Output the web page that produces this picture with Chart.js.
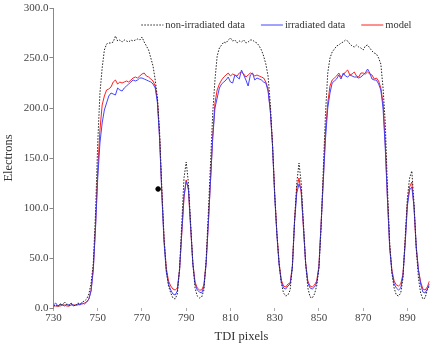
<!DOCTYPE html>
<html>
<head>
<meta charset="utf-8">
<script src="https://cdn.jsdelivr.net/npm/chart.js@4.4.1/dist/chart.umd.min.js"></script>
<style>
  html, body { margin: 0; padding: 0; background: #fff; }
  #wrap { width: 436px; height: 347px; }
</style>
</head>
<body>
<div id="wrap"><canvas id="tdiChart" width="436" height="347"></canvas></div>
<script>
// TDI pixel positions 730..900
const firstPixel = 730;
const tdiPixels = Array.from({ length: 171 }, (_, i) => firstPixel + i);

const xTicks = [730, 750, 770, 790, 810, 830, 850, 870, 890];
const yTicks = [0, 50, 100, 150, 200, 250, 300];

// electrons per TDI pixel
const nonIrradiated = [
  2, 3, 1, 4, 3, 6, 3, 2, 4, 3,
  2, 5, 4, 6, 7, 9, 14, 25, 45, 95,
  165, 215, 240, 258, 264, 265, 265, 266, 272, 267,
  268, 266, 268, 267, 266, 268, 267, 268, 269, 268,
  271, 266, 262, 258, 250, 242, 228, 210, 175, 118,
  70, 38, 22, 15, 10, 9, 14, 40, 85, 130,
  146, 125, 85, 45, 20, 12, 10, 11, 18, 48,
  95, 145, 195, 228, 252, 260, 263, 266, 265, 268,
  270, 267, 268, 265, 267, 266, 268, 265, 266, 268,
  268, 266, 265, 262, 258, 252, 244, 232, 205, 165,
  115, 75, 45, 25, 15, 12, 13, 18, 42, 88,
  125, 145, 125, 85, 45, 20, 11, 10, 14, 22,
  40, 80, 140, 195, 235, 250, 256, 259, 262, 263,
  265, 266, 268, 267, 264, 262, 261, 263, 261, 260,
  258, 262, 263, 260, 257, 255, 254, 250, 244, 220,
  185, 120, 65, 35, 20, 13, 12, 15, 30, 70,
  110, 130, 137, 105, 60, 30, 15, 9, 10, 18,
  22
];

const irradiated = [
  3, 5, 2, 4, 3, 2, 4, 3, 5, 2,
  3, 4, 3, 5, 4, 6, 9, 17, 38, 80,
  130, 165, 185, 198, 205, 212, 215, 214, 213, 220,
  218, 217, 220, 222, 224, 226, 228, 227, 228, 230,
  230, 229, 228, 227, 226, 224, 220, 205, 168, 112,
  65, 36, 24, 18, 14, 13, 17, 38, 76, 112,
  127, 120, 82, 44, 24, 18, 16, 15, 21, 44,
  84, 128, 170, 200, 210, 220, 224, 226, 228, 231,
  226, 225, 233, 231, 229, 238, 233, 228, 222, 233,
  235, 228, 230, 229, 228, 226, 225, 217, 198, 163,
  112, 73, 43, 26, 20, 19, 22, 24, 40, 86,
  115, 124, 118, 82, 44, 25, 20, 19, 21, 25,
  40, 84, 128, 170, 200, 215, 225, 227, 229, 233,
  229, 235, 232, 231, 233, 232, 231, 231, 230, 231,
  233, 235, 239, 235, 229, 228, 228, 224, 218, 200,
  160, 108, 60, 36, 24, 20, 18, 20, 32, 64,
  102, 118, 121, 102, 62, 38, 24, 16, 15, 19,
  24
];

const model = [
  2, 2, 2, 2, 3, 3, 2, 2, 3, 3,
  3, 3, 4, 4, 5, 6, 9, 18, 40, 82,
  138, 178, 203, 212, 218, 219, 221, 226, 228, 224,
  226, 225, 226, 227, 226, 228, 230, 231, 230, 232,
  234, 235, 232, 231, 229, 227, 222, 208, 170, 115,
  68, 40, 27, 22, 19, 18, 20, 38, 75, 110,
  128, 118, 80, 45, 26, 20, 18, 18, 23, 45,
  85, 128, 172, 205, 218, 224, 228, 231, 233, 235,
  232, 234, 233, 232, 235, 236, 234, 231, 233, 235,
  234, 232, 233, 232, 231, 230, 226, 219, 198, 165,
  115, 75, 45, 28, 22, 21, 24, 25, 42, 88,
  120, 130, 115, 80, 45, 27, 22, 21, 23, 27,
  42, 85, 130, 178, 205, 222, 228, 230, 232, 235,
  231, 233, 236, 238, 233, 234, 236, 232, 231, 235,
  235, 234, 236, 234, 233, 229, 230, 227, 220, 205,
  165, 110, 62, 38, 27, 23, 22, 24, 34, 66,
  105, 121, 126, 100, 60, 38, 26, 19, 18, 21,
  27
];

// single marked point
const markerX = [777.3];
const markerY = [119];

const seriesNames = ['non-irradiated data', 'irradiated data', 'model'];
const seriesColors = ['#222222', '#4444ff', '#ff2020'];
const seriesDash = [[1.5, 1.5], [], []];

const serif = '"Liberation Serif", "Times New Roman", serif';

function toPoints(values) {
  return values.map((v, i) => ({ x: tdiPixels[i], y: v }));
}

// one-row legend drawn inside the plot, top right
const rowLegend = {
  id: 'rowLegend',
  afterDraw(chart) {
    const c = chart.ctx;
    const area = chart.chartArea;
    const lineLen = 22, textGap = 2, itemGap = 16, y = 25;
    c.save();
    c.font = '10.5px ' + serif;
    c.textBaseline = 'middle';
    c.textAlign = 'left';
    const widths = seriesNames.map(name => lineLen + textGap + c.measureText(name).width);
    let x = area.right - 18 - widths.reduce((a, b) => a + b, 0) - itemGap * (seriesNames.length - 1);
    seriesNames.forEach((name, i) => {
      c.beginPath();
      c.setLineDash(seriesDash[i]);
      c.strokeStyle = seriesColors[i];
      c.lineWidth = 1;
      c.moveTo(x, y);
      c.lineTo(x + lineLen, y);
      c.stroke();
      c.setLineDash([]);
      c.fillStyle = '#333';
      c.fillText(name, x + lineLen + textGap, y);
      x += widths[i] + itemGap;
    });
    c.restore();
  }
};

const lineSets = [nonIrradiated, irradiated, model].map((values, i) => ({
  label: seriesNames[i],
  data: toPoints(values),
  borderColor: seriesColors[i],
  borderWidth: 1,
  borderDash: seriesDash[i],
  pointRadius: 0,
  tension: 0
}));

const ctx = document.getElementById('tdiChart').getContext('2d');
const tdiChart = new Chart(ctx, {
  type: 'line',
  data: {
    datasets: lineSets.concat([{
      type: 'scatter',
      label: 'marker',
      data: markerX.map((x, i) => ({ x: x, y: markerY[i] })),
      backgroundColor: '#000',
      borderColor: '#000',
      pointRadius: 2.3,
      showLine: false
    }])
  },
  options: {
    responsive: false,
    animation: false,
    devicePixelRatio: 1,
    layout: { padding: { top: 8, right: 6.5, bottom: 0, left: 0 } },
    plugins: {
      tooltip: { enabled: false },
      legend: { display: false }
    },
    scales: {
      x: {
        type: 'linear',
        min: 730,
        max: 900,
        afterBuildTicks: axis => { axis.ticks = xTicks.map(v => ({ value: v })); },
        afterFit: scale => { scale.height = 39; },
        ticks: {
          autoSkip: false,
          maxRotation: 0,
          padding: 1,
          color: '#444',
          font: { family: serif, size: 11 }
        },
        grid: { drawOnChartArea: false, drawTicks: true, tickLength: 3, color: '#aaa' },
        border: { display: false },
        title: {
          display: true,
          text: 'TDI pixels',
          color: '#333',
          font: { family: serif, size: 12.5 },
          padding: { top: 0, bottom: 3 }
        }
      },
      y: {
        min: 0,
        max: 300,
        afterBuildTicks: axis => { axis.ticks = yTicks.map(v => ({ value: v })); },
        afterFit: scale => { scale.width = 53.5; },
        ticks: {
          padding: 1,
          color: '#444',
          font: { family: serif, size: 11 },
          callback: v => v.toFixed(1)
        },
        grid: { drawOnChartArea: false, drawTicks: true, tickLength: 4, color: '#888' },
        border: { display: true, color: '#888' },
        title: {
          display: true,
          text: 'Electrons',
          color: '#333',
          font: { family: serif, size: 12.5 },
          padding: { top: 1, bottom: 0 }
        }
      }
    }
  },
  plugins: [rowLegend]
});
</script>
</body>
</html>
